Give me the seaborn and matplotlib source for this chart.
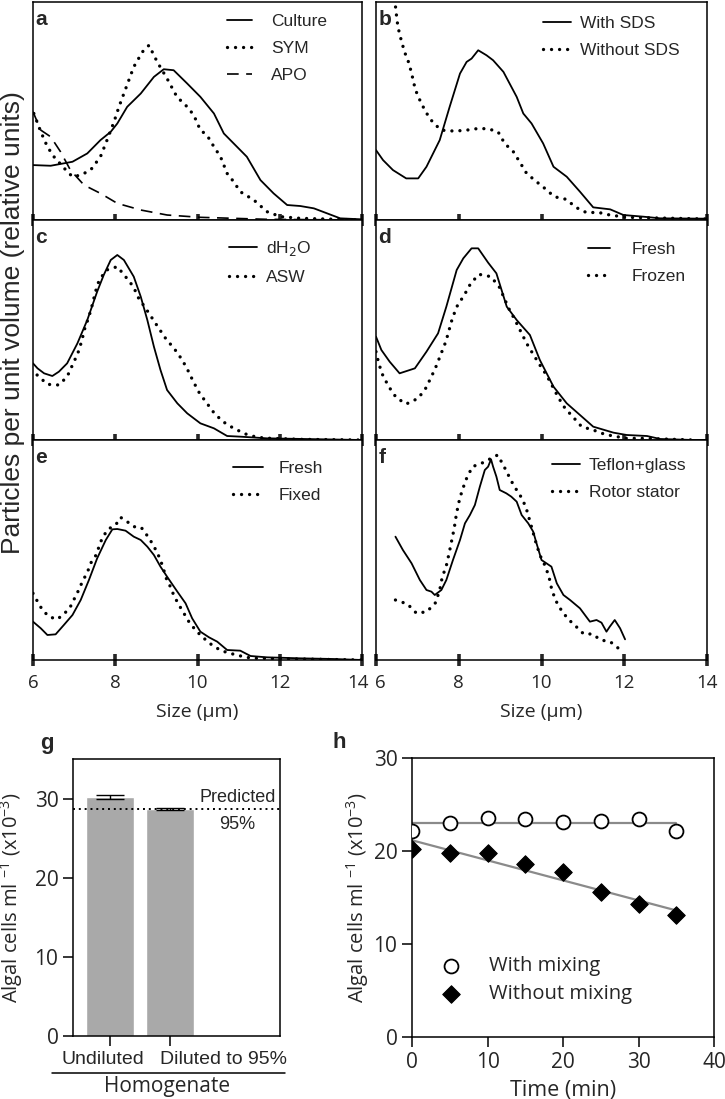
import numpy as np
import matplotlib
matplotlib.use("Agg")
import matplotlib.pyplot as plt
import matplotlib.transforms as mtransforms
import seaborn as sns

# ---- panel a: culture / SYM / APO
a_cult_x = [6.0, 6.43, 6.96, 7.32, 7.64, 7.89, 8.05, 8.29, 8.62, 8.94, 9.18, 9.42, 9.75, 10.07, 10.4, 10.64, 10.88, 11.2, 11.53, 11.85, 12.18, 12.5, 12.83, 13.15, 13.47, 14.0]
a_cult_y = [165, 163, 175, 200, 240, 265, 290, 340, 380, 430, 453, 450, 410, 370, 320, 260, 230, 190, 120, 80, 45, 42, 35, 20, 5, 2]
a_sym_x = [6.02, 6.19, 6.35, 6.51, 6.8, 6.96, 7.16, 7.4, 7.64, 7.8, 7.97, 8.09, 8.21, 8.33, 8.45, 8.66, 8.82, 9.02, 9.26, 9.5, 9.75, 9.91, 10.07, 10.23, 10.4, 10.56, 10.72, 10.88, 11.04, 11.37, 11.69, 12.02, 12.5, 14.0]
a_sym_y = [320, 265, 220, 190, 150, 130, 135, 150, 190, 240, 295, 340, 380, 420, 460, 505, 525, 475, 425, 370, 340, 315, 270, 255, 220, 190, 140, 115, 85, 60, 25, 10, 5, 0]
a_apo_x = [6.0, 6.19, 6.43, 6.67, 6.91, 7.24, 7.64, 8.05, 8.62, 9.26, 10.07, 11.69, 14.0]
a_apo_y = [325, 270, 250, 205, 150, 105, 80, 50, 30, 15, 8, 2, 0]

# ---- panel b: with / without SDS
b_sds_x = [6.0, 6.17, 6.41, 6.73, 7.02, 7.22, 7.54, 7.78, 8.03, 8.19, 8.31, 8.47, 8.67, 8.83, 9.08, 9.4, 9.56, 9.76, 10.04, 10.29, 10.61, 10.93, 11.25, 11.66, 11.98, 12.46, 12.87, 14.0]
b_sds_y = [210, 180, 150, 125, 125, 160, 240, 340, 440, 475, 485, 510, 495, 480, 445, 370, 320, 290, 230, 160, 130, 85, 38, 32, 15, 10, 5, 4]
b_nosds_x = [6.42, 6.49, 6.53, 6.61, 6.69, 6.8, 6.88, 6.95, 7.06, 7.2, 7.38, 7.58, 7.9, 8.19, 8.47, 8.71, 8.95, 9.11, 9.32, 9.48, 9.64, 9.86, 10.08, 10.31, 10.6, 10.83, 11.09, 11.37, 11.65, 12.06, 14.0]
b_nosds_y = [700, 620, 580, 540, 505, 470, 430, 392, 360, 325, 292, 270, 267, 270, 275, 274, 265, 230, 205, 173, 140, 117, 95, 70, 62, 38, 22, 23, 15, 8, 3]

# ---- panel c: dH2O / ASW
c_h2o_x = [6.0, 6.11, 6.27, 6.47, 6.63, 6.83, 7.08, 7.32, 7.56, 7.72, 7.89, 8.05, 8.21, 8.45, 8.62, 8.78, 8.94, 9.1, 9.26, 9.51, 9.75, 10.07, 10.4, 10.72, 11.04, 11.69, 14.0]
c_h2o_y = [230, 215, 200, 192, 205, 230, 290, 360, 445, 495, 540, 555, 540, 490, 430, 360, 280, 210, 150, 110, 80, 50, 35, 12, 10, 5, 0]
c_asw_x = [6.1, 6.35, 6.63, 6.83, 6.96, 7.09, 7.18, 7.26, 7.36, 7.44, 7.52, 7.61, 7.79, 8.05, 8.25, 8.44, 8.57, 8.74, 8.9, 9.06, 9.24, 9.43, 9.63, 9.77, 9.9, 10.05, 10.23, 10.41, 10.62, 10.88, 11.17, 11.45, 11.77, 12.5, 14.0]
c_asw_y = [195, 167, 165, 190, 225, 260, 295, 335, 370, 405, 445, 480, 510, 520, 490, 460, 425, 395, 365, 335, 302, 275, 240, 208, 175, 140, 110, 80, 55, 35, 18, 8, 5, 2, 0]

# ---- panel d: fresh / frozen
d_fresh_x = [6.0, 6.13, 6.33, 6.57, 6.94, 7.22, 7.5, 7.7, 7.95, 8.11, 8.31, 8.47, 8.71, 8.91, 9.16, 9.4, 9.72, 9.96, 10.29, 10.61, 10.93, 11.25, 11.74, 12.06, 12.55, 12.87, 13.68, 14.0]
d_fresh_y = [310, 270, 235, 200, 215, 265, 320, 400, 510, 545, 575, 575, 532, 500, 400, 360, 315, 240, 160, 110, 75, 40, 22, 15, 12, 3, 0, 0]
d_frozen_x = [6.0, 6.07, 6.17, 6.32, 6.49, 6.73, 7.02, 7.2, 7.34, 7.46, 7.57, 7.69, 7.85, 7.97, 8.13, 8.29, 8.49, 8.78, 8.99, 9.1, 9.22, 9.36, 9.5, 9.64, 9.8, 9.96, 10.12, 10.27, 10.41, 10.57, 10.77, 10.97, 11.25, 11.53, 11.82, 12.06, 12.46, 13.68]
d_frozen_y = [265, 228, 192, 158, 127, 108, 125, 155, 190, 223, 258, 296, 367, 404, 434, 470, 497, 490, 457, 425, 392, 360, 325, 290, 257, 225, 195, 160, 127, 95, 68, 40, 30, 17, 10, 5, 5, 0]

# ---- panel e: fresh / fixed
e_fresh_x = [6.0, 6.19, 6.35, 6.55, 6.75, 6.96, 7.16, 7.36, 7.56, 7.77, 7.93, 8.05, 8.25, 8.45, 8.62, 8.78, 8.94, 9.1, 9.26, 9.51, 9.71, 9.87, 10.07, 10.28, 10.48, 10.72, 11.04, 11.29, 11.69, 12.5, 13.31, 14.0]
e_fresh_y = [115, 95, 75, 77, 105, 135, 180, 240, 305, 360, 392, 393, 388, 370, 360, 340, 315, 280, 250, 205, 170, 125, 85, 68, 55, 30, 28, 12, 8, 5, 3, 0]
e_fixed_x = [6.0, 6.12, 6.23, 6.39, 6.59, 6.77, 6.91, 7.01, 7.12, 7.21, 7.32, 7.4, 7.52, 7.6, 7.68, 7.82, 8.01, 8.13, 8.29, 8.45, 8.63, 8.75, 8.91, 9.02, 9.1, 9.18, 9.24, 9.34, 9.43, 9.55, 9.67, 9.79, 9.95, 10.11, 10.32, 10.52, 10.72, 10.96, 11.17, 11.45, 12.5, 14.0]
e_fixed_y = [200, 173, 150, 130, 122, 140, 160, 185, 212, 238, 262, 290, 312, 338, 365, 392, 405, 428, 415, 400, 398, 378, 348, 322, 300, 270, 245, 220, 192, 165, 140, 115, 90, 70, 48, 32, 22, 15, 8, 5, 3, 0]

# ---- panel f: teflon+glass / rotor stator
f_teflon_x = [6.47, 6.65, 6.86, 7.06, 7.22, 7.34, 7.42, 7.58, 7.7, 7.86, 8.03, 8.15, 8.27, 8.39, 8.51, 8.63, 8.71, 8.78, 8.83, 8.91, 8.99, 9.15, 9.27, 9.4, 9.52, 9.68, 9.8, 9.88, 10.0, 10.12, 10.24, 10.37, 10.53, 10.69, 10.93, 11.17, 11.33, 11.45, 11.57, 11.65, 11.77, 11.9, 12.02]
f_teflon_y = [370, 330, 290, 240, 210, 205, 195, 210, 240, 300, 360, 410, 435, 465, 520, 570, 580, 602, 580, 550, 510, 500, 490, 475, 435, 410, 385, 350, 300, 290, 280, 230, 195, 180, 155, 115, 120, 112, 85, 100, 120, 95, 62]
f_rotor_x = [6.47, 6.76, 6.98, 7.23, 7.44, 7.54, 7.6, 7.7, 7.77, 7.89, 7.94, 8.0, 8.08, 8.19, 8.33, 8.55, 8.94, 9.08, 9.21, 9.33, 9.48, 9.62, 9.7, 9.78, 9.87, 9.96, 10.09, 10.18, 10.25, 10.35, 10.49, 10.65, 10.84, 11.02, 11.23, 11.43, 11.66, 11.86]
f_rotor_y = [180, 168, 140, 145, 172, 210, 248, 283, 322, 395, 435, 472, 508, 545, 580, 590, 615, 584, 552, 523, 495, 460, 425, 390, 350, 315, 282, 250, 210, 177, 147, 122, 100, 78, 78, 60, 55, 35]

size_ticks = [6, 8, 10, 12, 14]

# ---- panel g: homogenate counts
g_cats = ["Undiluted", "Diluted to 95%"]
g_vals = [30.2, 28.7]
g_errs = [0.2, 0.1]
g_predicted = 28.65

# ---- panel h: settling over time
h_time = [0, 5, 10, 15, 20, 25, 30, 35]
h_mixing = [22.1, 23.05, 23.6, 23.4, 23.1, 23.2, 23.4, 22.2]
h_nomixing = [20.2, 19.8, 19.75, 18.6, 17.7, 15.6, 14.3, 13.1]

sns.set_style("ticks")
plt.rcParams["font.family"] = ["Liberation Sans", "DejaVu Sans"]
plt.rcParams["axes.linewidth"] = 1.1
plt.rcParams["axes.edgecolor"] = "black"

W, H = 725, 1099
fig = plt.figure(figsize=(W / 100, H / 100), dpi=100)


def px_axes(left, top, right, bottom):
    return fig.add_axes([left / W, 1 - bottom / H, (right - left) / W, (bottom - top) / H])


def nudge(label, dx_px):
    label.set_transform(label.get_transform() + mtransforms.ScaledTranslation(dx_px / 100, 0, fig.dpi_scale_trans))


DOT = dict(linestyle=(0, (0.01, 2.4)), dash_capstyle="round", lw=2.4)
SOLID = dict(linestyle="-", lw=1.3)
DASH = dict(linestyle=(0, (7, 4.5)), lw=1.2)

# letter, axes box (px), legend anchor (axes frac), handlelength, handletextpad, series
panels = [
    ("a", (33, 2, 362, 220), (0.590, 0.945), 1.45, 1.1,
     [(a_cult_x, a_cult_y, "Culture", SOLID), (a_sym_x, a_sym_y, "SYM", DOT), (a_apo_x, a_apo_y, "APO", DASH)]),
    ("b", (376, 2, 707, 220), (0.505, 0.936), 1.6, 0.5,
     [(b_sds_x, b_sds_y, "With SDS", SOLID), (b_nosds_x, b_nosds_y, "Without SDS", DOT)]),
    ("c", (33, 220, 362, 440), (0.596, 0.914), 1.6, 0.55,
     [(c_h2o_x, c_h2o_y, "dH$_2$O", SOLID), (c_asw_x, c_asw_y, "ASW", DOT)]),
    ("d", (376, 220, 707, 440), (0.640, 0.900), 1.25, 1.3,
     [(d_fresh_x, d_fresh_y, "Fresh", SOLID), (d_frozen_x, d_frozen_y, "Frozen", DOT)]),
    ("e", (33, 440, 362, 660), (0.608, 0.904), 1.7, 0.9,
     [(e_fresh_x, e_fresh_y, "Fresh", SOLID), (e_fixed_x, e_fixed_y, "Fixed", DOT)]),
    ("f", (376, 440, 707, 660), (0.532, 0.918), 1.6, 0.5,
     [(f_teflon_x, f_teflon_y, "Teflon+glass", SOLID), (f_rotor_x, f_rotor_y, "Rotor stator", DOT)]),
]

for letter, box, anchor, hlen, hpad, series in panels:
    ax = px_axes(*box)
    for xs, ys, lab, sty in series:
        sns.lineplot(x=xs, y=ys, ax=ax, color="black", estimator=None, sort=False, label=lab, **sty)
    ax.set_xlim(6, 14)
    ax.set_ylim(0, 655 if letter in "ab" else 660)
    ax.set_yticks([])
    ax.set_xticks(size_ticks)
    ax.tick_params(axis="x", direction="inout", length=8, width=2.6, labelsize=13.5, pad=6)
    if letter in "ef":
        ax.set_xticklabels([str(t) for t in size_ticks], family="Open Sans")
        ticklabs = ax.get_xticklabels()
        if letter == "e":
            nudge(ticklabs[-1], -4)
        else:
            nudge(ticklabs[0], 4)
        ax.set_xlabel("Size (µm)", family="Open Sans", fontsize=14, labelpad=8)
    else:
        ax.set_xticklabels([])
    ax.set_ylabel("")
    ax.text(0.007, 1 - 23 / 219, letter, transform=ax.transAxes, fontsize=15, fontweight="bold",
            va="baseline", ha="left")
    ax.legend(loc="upper left", bbox_to_anchor=anchor, frameon=False, fontsize=12.5, handlelength=hlen,
              handletextpad=hpad, labelspacing=0.67, borderaxespad=0, borderpad=0)

fig.text(13 / W, 1 - 323 / H, "Particles per unit volume (relative units)", rotation=90,
         va="center", ha="center", fontsize=19)

# ---- panel g
axg = px_axes(73, 759, 280, 1036)
sns.barplot(x=g_cats, y=g_vals, ax=axg, color="#a9a9a9", saturation=1, width=0.8, errorbar=None)
axg.errorbar(x=[0, 1], y=g_vals, yerr=g_errs, fmt="none", ecolor="black", elinewidth=1, capsize=10, capthick=1)
axg.axhline(g_predicted, color="black", linestyle=(0, (1, 2)), lw=1.4)
axg.set_xlim(-0.617, 2.83)
axg.set_ylim(0, 35)
axg.set_yticks([0, 10, 20, 30])
axg.tick_params(axis="both", direction="out", length=7, width=1.3, labelsize=15)
axg.tick_params(axis="x", labelsize=14)
for lab in axg.get_yticklabels():
    lab.set_family("Open Sans")
labs = axg.get_xticklabels()
nudge(labs[0], -7)
labs[1].set_ha("left")
nudge(labs[1], -10)
axg.text(2.12, 30.1, "Predicted", ha="center", va="center", fontsize=13)
axg.text(2.12, 26.7, "95%", ha="center", va="center", fontsize=13)
axg.plot([-0.101, 1.024], [-0.134, -0.134], transform=axg.transAxes, color="black", lw=1.1, clip_on=False)
axg.text(0.454, -0.184, "Homogenate", transform=axg.transAxes, ha="center", va="center", fontsize=15,
         family="Open Sans")
axg.set_ylabel("Algal cells ml $^{\\mathregular{-1}}$ (x10$^{\\mathregular{-3}}$)", family="Open Sans",
               fontsize=14.5, labelpad=7)
fig.text(40 / W, 1 - 743 / H, "g", fontsize=16, fontweight="bold", ha="left", va="center")

# ---- panel h
axh = px_axes(412, 758, 714, 1037)
sns.regplot(x=h_time, y=h_nomixing, ax=axh, scatter=False, ci=None, color="#8a8a8a", line_kws=dict(lw=1.6))
mix_mean = float(np.mean(h_mixing))
sns.lineplot(x=[h_time[0], h_time[-1]], y=[mix_mean, mix_mean], ax=axh, color="#8a8a8a", lw=1.6, estimator=None)
sns.scatterplot(x=h_time, y=h_mixing, ax=axh, marker="o", s=100, facecolor="white", edgecolor="black",
                linewidth=1.3, label="With mixing", zorder=3)
sns.scatterplot(x=h_time, y=h_nomixing, ax=axh, marker="D", s=80, color="black", edgecolor="black",
                label="Without mixing", zorder=3)
axh.set_xlim(0, 40)
axh.set_ylim(0, 30)
axh.set_xticks([0, 10, 20, 30, 40])
axh.set_yticks([0, 10, 20, 30])
axh.tick_params(axis="both", direction="out", length=7, width=1.3, labelsize=15)
for lab in axh.get_xticklabels() + axh.get_yticklabels():
    lab.set_family("Open Sans")
axh.set_xlabel("Time (min)", family="Open Sans", fontsize=15.5, labelpad=5)
axh.set_ylabel("Algal cells ml $^{\\mathregular{-1}}$ (x10$^{\\mathregular{-3}}$)", family="Open Sans",
               fontsize=14.5, labelpad=2)
axh.legend(loc="upper left", bbox_to_anchor=(0.062, 0.29), frameon=False, prop=dict(family="Open Sans", size=14.5),
           handletextpad=0.9, labelspacing=0.4, borderaxespad=0, borderpad=0)
fig.text(333 / W, 1 - 743 / H, "h", fontsize=16, fontweight="bold", ha="left", va="center")

fig.savefig("out.png", dpi=100)
